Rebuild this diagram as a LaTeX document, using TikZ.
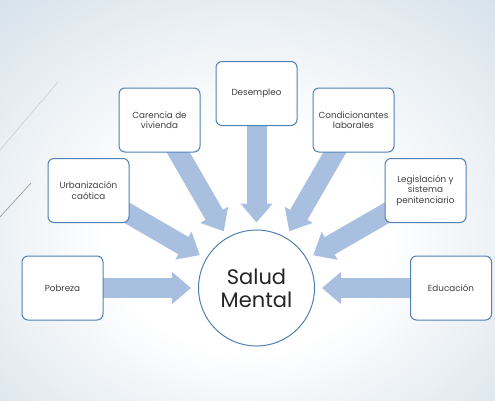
\documentclass[tikz,border=0pt]{standalone}
\usepackage{fontspec}
\setmainfont{Poppins}
\usetikzlibrary{arrows.meta}

\definecolor{framecol}{HTML}{4F81B4}
\definecolor{flowcol}{HTML}{A9BFE0}
\definecolor{textcol}{HTML}{404040}
\definecolor{edgecol}{HTML}{D6E1EA}
\definecolor{cornercol}{HTML}{C8D6E3}

\pgfdeclareradialshading{glow}{\pgfpoint{0bp}{-6bp}}{%
  color(0bp)=(white); color(14bp)=(white); color(38bp)=(edgecol);
  color(55bp)=(cornercol); color(70bp)=(cornercol)}

\pgfdeclarelayer{back}
\pgfsetlayers{back,main}

\tikzset{
  factor/.style={draw=framecol,line width=1pt,fill=white,rounded corners=6pt,
    minimum width=81pt,minimum height=64pt,inner sep=2pt,align=center,
    text=textcol,font=\fontsize{8.8}{10.5}\selectfont},
  centre/.style={draw=framecol,line width=1pt,fill=white,circle,
    minimum size=116pt,inner sep=0pt,align=center,text=black!85,
    font=\fontsize{21}{23}\selectfont},
  flow/.style={draw=flowcol,line width=20pt,
    -{Triangle[length=19pt,width=31pt]},shorten >=7pt}
}

\begin{document}
\begin{tikzpicture}[x=1pt,y=-1pt]

\useasboundingbox (0,0) rectangle (495,400);

\node [centre] (sm) at (256.5,288) {Salud\\Mental};

\node [factor] (pob) at (62.5,288) {Pobreza};
\node [factor] (urb) at (88.5,190.5) {Urbanización\\caótica};
\node [factor] (viv) at (159.5,120) {Carencia de\\vivienda};
\node [factor] (des) at (256.5,93.5) {Desempleo};
\node [factor] (lab) at (353.5,120) {Condicionantes\\laborales};
\node [factor] (leg) at (425.5,190.5) {Legislación y\\sistema\\penitenciario};
\node [factor] (edu) at (451,288) {Educación};

\begin{pgfonlayer}{back}
\shade [shading=glow] (0,0) rectangle (495,400);

\draw [gray!40,line width=0.6pt] (58,82) -- (0,150);
\draw [gray!85,line width=0.6pt] (31,183) -- (0,217);

\foreach \f in {pob,urb,viv,des,lab,leg,edu}
  \path [flow] (\f.center) -- (sm);
\end{pgfonlayer}

\end{tikzpicture}
\end{document}
